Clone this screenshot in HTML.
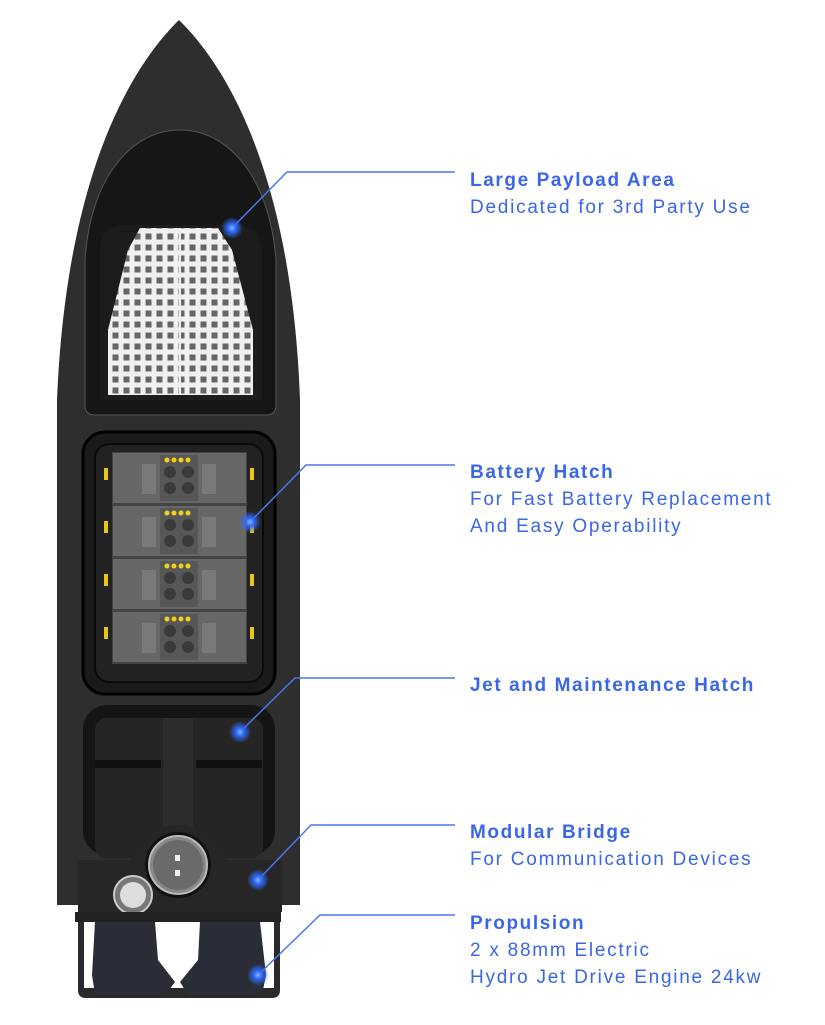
<!DOCTYPE html>
<html><head><meta charset="utf-8"><style>
html,body{margin:0;padding:0;background:#fff;}
body{width:825px;height:1025px;position:relative;overflow:hidden;font-family:"Liberation Sans",sans-serif;}
.lab{position:absolute;left:470px;color:#3a66e8;font-size:19px;line-height:27px;letter-spacing:1.75px;}
.lab b{font-weight:bold;letter-spacing:1.6px;}
svg{position:absolute;left:0;top:0;}
</style></head><body>
<svg width="825" height="1025" viewBox="0 0 825 1025">
<defs>
<pattern id="grid" x="0" y="0" width="11" height="11" patternUnits="userSpaceOnUse">
<rect width="11" height="11" fill="#f0f0f0"/><rect x="2.5" y="2.5" width="6" height="6" fill="#666"/>
</pattern>
<pattern id="bat" x="112" y="452" width="135" height="53" patternUnits="userSpaceOnUse">
<rect width="135" height="53" fill="#444"/>
<rect x="1" y="1" width="133" height="50" fill="#676767"/>
<rect x="48" y="3" width="38" height="46" fill="#575757"/>
<circle cx="58" cy="20" r="6" fill="#3a3a3a"/><circle cx="76" cy="20" r="6" fill="#3a3a3a"/>
<circle cx="58" cy="36" r="6" fill="#3a3a3a"/><circle cx="76" cy="36" r="6" fill="#3a3a3a"/>
<circle cx="55" cy="8" r="2.5" fill="#f3d11a"/><circle cx="62" cy="8" r="2.5" fill="#f3d11a"/><circle cx="69" cy="8" r="2.5" fill="#f3d11a"/><circle cx="76" cy="8" r="2.5" fill="#f3d11a"/>
<rect x="30" y="12" width="14" height="30" fill="#7a7a7a"/><rect x="90" y="12" width="14" height="30" fill="#7a7a7a"/>
</pattern>
<radialGradient id="glow"><stop offset="0" stop-color="#8fb4ff"/><stop offset="0.35" stop-color="#2f6bff"/><stop offset="1" stop-color="#2f6bff" stop-opacity="0"/></radialGradient>
</defs>
<path d="M179 20 C 230 70, 292 180, 300 400 L300 905 L57 905 L57 400 C 66 180, 128 70, 179 20 Z" fill="#2e2e2e"/>
<path d="M85 405 L85 260 C 90 180, 130 130, 180 130 C 230 130, 270 180, 276 260 L276 405 Q276 415 266 415 L95 415 Q85 415 85 405 Z" fill="#161616" stroke="#555" stroke-width="1"/>
<path d="M100 400 L100 250 Q100 225 125 225 L235 225 Q260 225 262 250 L262 400 Z" fill="#1c1c1c"/>
<path d="M140 228 L218 228 L232 250 L253 330 L253 395 L108 395 L108 330 L128 250 Z" fill="url(#grid)"/>
<line x1="180" y1="228" x2="180" y2="395" stroke="#eee" stroke-width="2"/>
<line x1="108" y1="330" x2="253" y2="330" stroke="#eee" stroke-width="2"/>
<rect x="83" y="432" width="192" height="262" rx="22" fill="#1a1a1a" stroke="#000" stroke-width="3"/>
<rect x="95" y="444" width="168" height="238" rx="14" fill="#222" stroke="#0a0a0a" stroke-width="2"/>
<rect x="112" y="452" width="135" height="212" fill="url(#bat)"/>
<g fill="#e8c51a"><rect x="104" y="468" width="4" height="12"/><rect x="104" y="521" width="4" height="12"/><rect x="104" y="574" width="4" height="12"/><rect x="104" y="627" width="4" height="12"/>
<rect x="250" y="468" width="4" height="12"/><rect x="250" y="521" width="4" height="12"/><rect x="250" y="574" width="4" height="12"/><rect x="250" y="627" width="4" height="12"/></g>
<rect x="83" y="705" width="192" height="150" rx="24" fill="#151515"/>
<rect x="95" y="718" width="168" height="140" rx="12" fill="#252525"/>
<rect x="163" y="718" width="30" height="140" fill="#2c2c2c"/>
<rect x="95" y="760" width="66" height="8" fill="#111"/><rect x="196" y="760" width="66" height="8" fill="#111"/>
<path d="M78 860 L130 860 Q150 825 178 825 Q206 825 226 860 L282 860 L282 912 L78 912 Z" fill="#262626"/>
<circle cx="178" cy="865" r="33" fill="#111"/><circle cx="178" cy="865" r="29" fill="#888" stroke="#bbb" stroke-width="2"/><circle cx="178" cy="865" r="25" fill="#6a6a6a"/>
<rect x="175" y="855" width="5" height="6" fill="#eee"/><rect x="175" y="870" width="5" height="6" fill="#eee"/>
<circle cx="133" cy="895" r="19" fill="#777" stroke="#ccc" stroke-width="2"/><circle cx="133" cy="895" r="13" fill="#ddd"/>
<rect x="75" y="912" width="206" height="10" fill="#222"/>
<path d="M78 922 L78 990 Q78 998 86 998 L272 998 Q280 998 280 990 L280 922 L274 922 L274 988 L84 988 L84 922 Z" fill="#2a2a2a"/>
<path d="M95 922 L155 922 L158 960 L175 982 L165 995 L95 995 L92 975 Z" fill="#2a2d38"/>
<path d="M200 922 L260 922 L266 975 L262 995 L188 995 L180 982 L198 960 Z" fill="#2a2d38"/>
<g stroke="#4a76ee" stroke-width="1.5" fill="none">
<polyline points="232,228 287,172 455,172"/>
<polyline points="250,522 306,465 455,465"/>
<polyline points="240,732 295,678 455,678"/>
<polyline points="258,880 311,825 455,825"/>
<polyline points="258,975 320,915 455,915"/>
</g>
<g fill="url(#glow)">
<circle cx="232" cy="228" r="11"/><circle cx="250" cy="522" r="11"/><circle cx="240" cy="732" r="11"/><circle cx="258" cy="880" r="11"/><circle cx="258" cy="975" r="11"/>
</g>
</svg>
<div class="lab" style="top:167px"><b>Large Payload Area</b><br>Dedicated for 3rd Party Use</div>
<div class="lab" style="top:459px"><b>Battery Hatch</b><br>For Fast Battery Replacement<br>And Easy Operability</div>
<div class="lab" style="top:672px"><b>Jet and Maintenance Hatch</b></div>
<div class="lab" style="top:819px"><b>Modular Bridge</b><br>For Communication Devices</div>
<div class="lab" style="top:910px"><b>Propulsion</b><br>2 x 88mm Electric<br>Hydro Jet Drive Engine 24kw</div>
</body></html>
